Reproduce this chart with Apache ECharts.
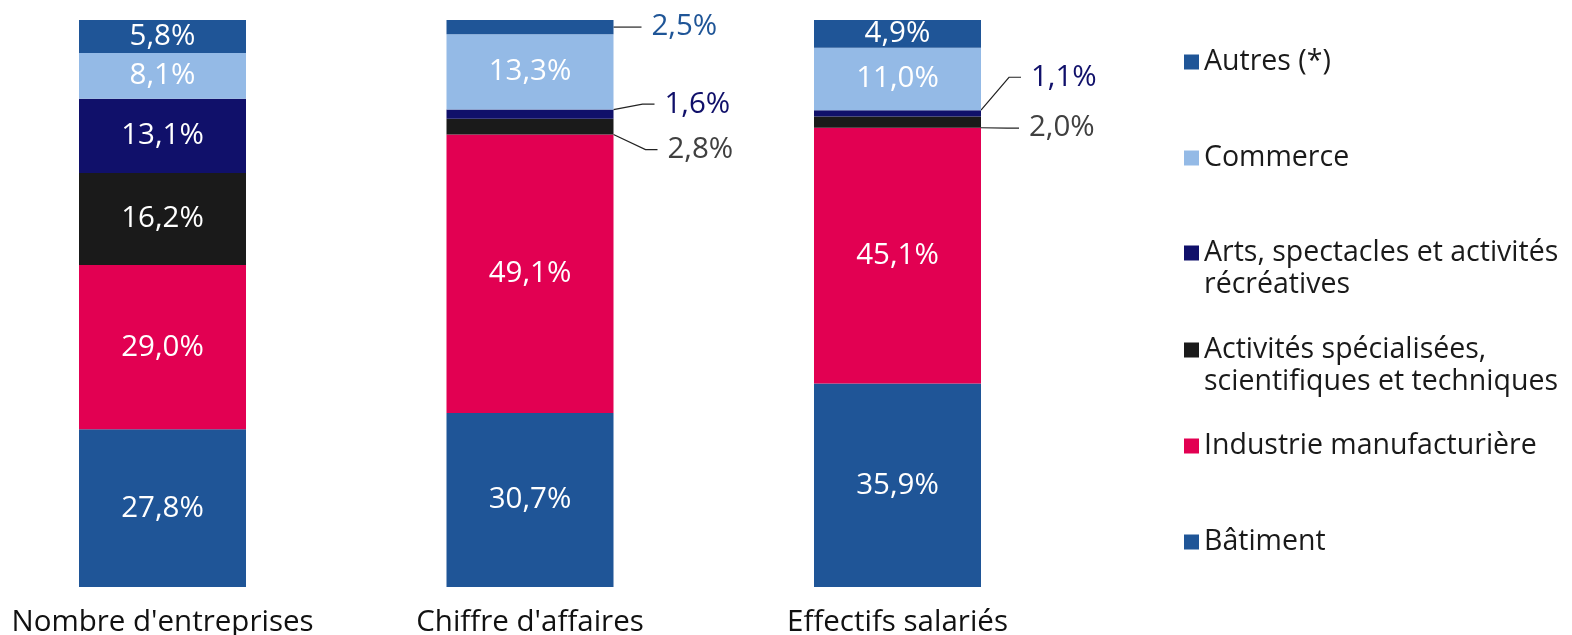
<!DOCTYPE html>
<html>
<head>
<meta charset="utf-8">
<script src="https://cdn.jsdelivr.net/npm/echarts@6/dist/echarts.min.js"></script>
<style>
  html, body { margin: 0; padding: 0; background: #fff; }
  #chart { width: 1572px; height: 635px; }
</style>
</head>
<body>
<div id="chart"></div>
<script>
const categories = ["Nombre d'entreprises", "Chiffre d'affaires", 'Effectifs salariés']

const batiment = [27.8, 30.7, 35.9]
const industrie = [29.0, 49.1, 45.1]
const activites = [16.2, 2.8, 2.0]
const arts = [13.1, 1.6, 1.1]
const commerce = [8.1, 13.3, 11.0]
const autres = [5.8, 2.5, 4.9]

const FONT = 'Open Sans'

// stacked from the bottom up
const sectors = [
  { name: 'Bâtiment', data: batiment, color: '#1f5597' },
  { name: 'Industrie manufacturière', data: industrie, color: '#e20052' },
  { name: 'Activités spécialisées, scientifiques et techniques', data: activites, color: '#1a1a1a' },
  { name: 'Arts, spectacles et activités récréatives', data: arts, color: '#10106a' },
  { name: 'Commerce', data: commerce, color: '#94bae6' },
  { name: 'Autres (*)', data: autres, color: '#1f5597' }
]

// small segments get their label outside, with a leader line
const outside = {
  'Autres (*)': { color: '#1f5597', dx: [0, 28, 0], dy: [0, 0, 0] },
  'Arts, spectacles et activités récréatives': { color: '#10106a', dx: [0, 41, 40], dy: [0, -10, -36] },
  'Activités spécialisées, scientifiques et techniques': { color: '#404040', dx: [0, 44, 38], dy: [0, 23, 6] }
}

const legendText = {
  'Arts, spectacles et activités récréatives': 'Arts, spectacles et activités\nrécréatives',
  'Activités spécialisées, scientifiques et techniques': 'Activités spécialisées,\nscientifiques et techniques'
}
const legendOrder = sectors.map(s => s.name).reverse()
const legendTops = [46, 142, 237, 334, 430, 526]

const fmt = v => v.toFixed(1).replace('.', ',') + '%'

const series = sectors.map(s => ({
  name: s.name,
  type: 'bar',
  stack: 'total',
  barWidth: 167,
  clip: false,
  itemStyle: { color: s.color },
  label: {
    show: true,
    position: 'inside',
    color: '#fff',
    fontFamily: FONT,
    fontSize: 29.5,
    formatter: p => fmt(p.value)
  },
  labelLayout: p => {
    const o = outside[s.name]
    if (!o || s.data[p.dataIndex] >= 3) return null
    return {
      x: p.rect.x + p.rect.width + o.dx[p.dataIndex],
      y: p.rect.y + p.rect.height / 2 + o.dy[p.dataIndex],
      align: 'left',
      verticalAlign: 'middle'
    }
  },
  data: s.data.map(v => {
    const o = outside[s.name]
    if (!o || v >= 3) return v
    return {
      value: v,
      label: { color: o.color, padding: [0, 0, 0, 10], backgroundColor: 'transparent' },
      labelLine: { show: true, length2: 12, lineStyle: { color: '#222', width: 1.2 } }
    }
  })
}))

const chart = echarts.init(document.getElementById('chart'))
chart.setOption({
  animation: false,
  grid: { left: 162.5, right: 674.5, top: 20, bottom: 48, outerBoundsMode: 'none', containLabel: false },
  xAxis: {
    type: 'category',
    data: categories,
    boundaryGap: false,
    axisLine: { show: false },
    axisTick: { show: false },
    splitLine: { show: false },
    axisLabel: { color: '#111', fontFamily: FONT, fontSize: 29.5, margin: 21, interval: 0 }
  },
  yAxis: { type: 'value', min: 0, max: 100, show: false },
  legend: legendOrder.map((name, i) => {
    const twoLines = !!legendText[name]
    return {
      data: [name],
      orient: 'vertical',
      left: 1184,
      top: legendTops[i],
      padding: 0,
      selectedMode: false,
      itemWidth: 15,
      itemHeight: twoLines ? 47 : 15,
      icon: twoLines ? 'path://M0,0H15V15H0Z M0,47H0.01V47.01H0Z' : 'rect',
      formatter: n => legendText[n] || n,
      textStyle: { color: '#1a1a1a', fontFamily: FONT, fontSize: 28.5, lineHeight: 32 }
    }
  }),
  series: series
})
</script>
</body>
</html>
